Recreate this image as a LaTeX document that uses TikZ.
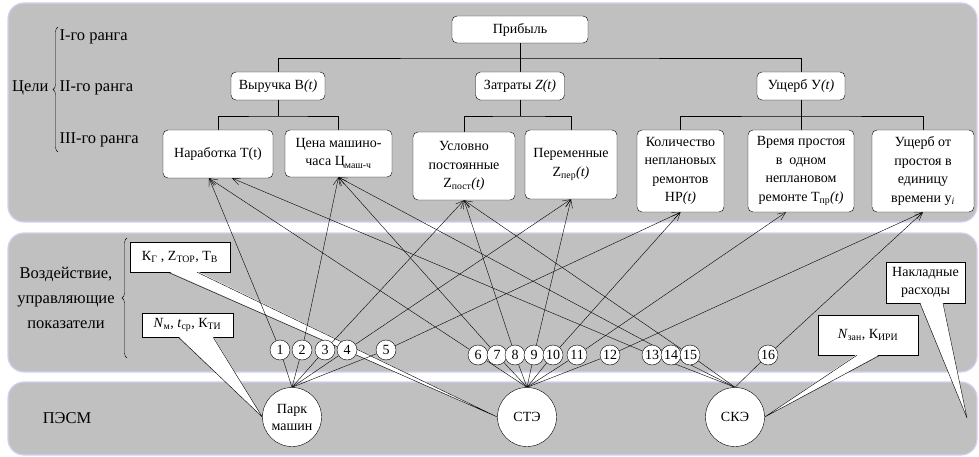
\documentclass[tikz,border=0pt]{standalone}
\usepackage{fontspec}
\setmainfont{Liberation Serif}
\usetikzlibrary{calc, positioning, arrows.meta, decorations.pathreplacing}
\definecolor{panelgray}{RGB}{192,192,192}
\definecolor{panelrim}{RGB}{208,208,242}
\pgfdeclarelayer{panels}
\pgfdeclarelayer{tails}
\pgfdeclarelayer{lines}
\pgfsetlayers{panels,tails,lines,main}
\tikzset{
  panel/.style={fill=panelgray, draw=panelrim, line width=1.2pt, rounded corners=16pt},
  goal/.style={draw, fill=white, rounded corners=5pt, align=center, inner sep=1pt,
    font=\fontsize{14}{18.5}\selectfont},
  side/.style={align=center, font=\fontsize{16.5}{25}\selectfont},
  num/.style={circle, draw, fill=white, inner sep=0pt, minimum size=20pt,
    font=\fontsize{14}{14}\selectfont},
  unit/.style={circle, draw, fill=white, inner sep=0pt, minimum size=59pt, align=center,
    font=\fontsize{14}{17}\selectfont},
  note/.style={draw, fill=white, align=center, inner sep=2pt,
    font=\fontsize{14}{18}\selectfont},
  >={Straight Barb[length=8pt,width=7pt]}
}

\begin{document}
\begin{tikzpicture}[x=1pt, y=-1pt, line width=0.6pt]
  \useasboundingbox (0,0) rectangle (979,457);
  % three levels
  \begin{pgfonlayer}{panels}
    \draw[panel] (8,3) rectangle (977,222);
    \draw[panel] (8,233) rectangle (977,372);
    \draw[panel] (8,382) rectangle (977,455);
  \end{pgfonlayer}

  % captions on the left
  \node[side, anchor=west] (rank1) at (56,37) {I-го ранга};
  \node[side, anchor=west] (rank2) at (56,88) {II-го ранга};
  \node[side, anchor=west] (rank3) at (56,140) {III-го ранга};
  \node[side, anchor=east] (goals) at (52,88) {Цели};
  \draw[decorate, decoration={brace, amplitude=5pt}] (58,152) -- (58,27);
  \node[side] (impact) at (66,298) {Воздействие,\\управляющие\\показатели};
  \draw[decorate, decoration={brace, amplitude=5pt}] (127,358) -- (127,238);
  \node[side] (pesm) at (67,418) {ПЭСМ};

  % goal tree
  \node[goal, minimum width=136pt, minimum height=27pt] (profit) at (520,29.5) {Прибыль};
  \node[goal, minimum width=94pt, minimum height=28pt] (revenue) at (278,86) {Выручка В\textit{(t)}};
  \node[goal, minimum width=89pt, minimum height=28pt] (costs) at (520,86) {Затраты \textit{Z(t)}};
  \node[goal, minimum width=88pt, minimum height=28pt] (damage) at (801,86) {Ущерб У\textit{(t)}};

  \node[goal, minimum width=110pt, minimum height=48pt] (runtime) at (218,154) {Наработка T(t)};
  \node[goal, minimum width=107pt, minimum height=47pt] (price) at (338.5,153.5) {Цена машино-\\часа Ц\textsubscript{маш-ч}};
  \node[goal, minimum width=102pt, minimum height=68pt] (fixed) at (464,166) {Условно\\постоянные\\Z\textsubscript{пост}\textit{(t)}};
  \node[goal, minimum width=92pt, minimum height=69pt] (variable) at (571,164.5) {Переменные\\Z\textsubscript{пер}\textit{(t)}};
  \node[goal, minimum width=87pt, minimum height=82pt] (repairs) at (680.5,171) {Количество\\неплановых\\ремонтов\\НР\textit{(t)}};
  \node[goal, minimum width=106pt, minimum height=82pt] (downtime) at (801,171) {Время простоя\\в~~одном\\неплановом\\ремонте Т\textsubscript{пр}\textit{(t)}};
  \node[goal, minimum width=102pt, minimum height=82pt] (loss) at (923,171) {Ущерб от\\простоя в\\единицу\\времени у\textsubscript{\textit{i}}};

  % subsystems
  \node[unit] (park) at (292,417) {Парк\\машин};
  \node[unit] (ste) at (527,417) {СТЭ};
  \node[unit] (ske) at (735,417) {СКЭ};

  \foreach \n/\x in {1/280,2/302,3/325,4/347,5/386}
    \node[num] (n\n) at (\x,350) {\n};
  \foreach \n/\x in {6/478,7/497,8/515,9/534,10/553,11/577,12/610,13/652,14/671,15/690,16/768}
    \node[num] (n\n) at (\x,355) {\n};

  % callouts
  \begin{pgfonlayer}{tails}
    \node[note, minimum width=100pt, minimum height=30pt] (kg) at (180,257) {К\textsubscript{Г} , Z\textsubscript{ТОР}, Т\textsubscript{В}};
    \node[note, minimum width=91pt, minimum height=24pt] (nm) at (187.5,325) {\textit{N}\textsubscript{м}, \textit{t}\textsubscript{ср}, К\textsubscript{ТИ}};
    \node[note, minimum width=100pt, minimum height=40pt] (nzan) at (868,335) {\textit{N}\textsubscript{зан}, К\textsubscript{ИРИ}};
    \node[note, minimum width=79pt, minimum height=41pt] (overhead) at (925.5,282.5) {Накладные\\расходы};
    \coordinate (overhead tip) at (967,418);
    \foreach \c/\a/\b/\tip in {kg/0.38/0.67/ste.west, nm/0.40/0.78/park.west,
        nzan/0.39/0.62/ske.east, overhead/0.43/0.72/overhead tip} {
      \fill[white] ($(\c.south west)!\a!(\c.south east)+(0,-1)$) -- (\tip)
        -- ($(\c.south west)!\b!(\c.south east)+(0,-1)$) -- cycle;
      \draw ($(\c.south west)!\a!(\c.south east)$) -- (\tip)
        -- ($(\c.south west)!\b!(\c.south east)$);
    }
  \end{pgfonlayer}

  \begin{pgfonlayer}{lines}
    \coordinate (bus1) at (0,58);
    \coordinate (bus2) at (0,116);
    \draw (profit) -- (costs);
    \draw (revenue.north) |- (profit |- bus1) -| (damage.north);
    \draw (revenue) -- (revenue |- bus2);
    \draw (runtime.north) |- (revenue |- bus2) -| (price.north);
    \draw (costs) -- (costs |- bus2);
    \draw (fixed.north) |- (costs |- bus2) -| (variable.north);
    \draw (damage) -- (downtime);
    \draw (repairs.north) |- (damage |- bus2) -| (loss.north);

    \coordinate (runtime in) at ([xshift=-9pt]runtime.south);
    \coordinate (runtime in2) at ([xshift=14pt]runtime.south);
    \coordinate (downtime in) at ([xshift=-15pt]downtime.south);
    \foreach \src/\dst in {1/runtime in, 6/runtime in, 13/runtime in2,
        2/price.south, 7/price.south, 14/price.south,
        3/fixed.south, 8/fixed.south, 15/fixed.south,
        4/variable.south, 9/variable.south,
        5/repairs.south, 10/repairs.south,
        11/downtime in, 12/loss.south, 16/loss.south}
      \draw[->] (n\src) -- (\dst);

    \foreach \n in {1,...,5} \draw (n\n) -- (park.north);
    \foreach \n in {6,...,12} \draw (n\n) -- (ste.north);
    \foreach \n in {13,...,16} \draw (n\n) -- (ske.north);
  \end{pgfonlayer}
\end{tikzpicture}
\end{document}
